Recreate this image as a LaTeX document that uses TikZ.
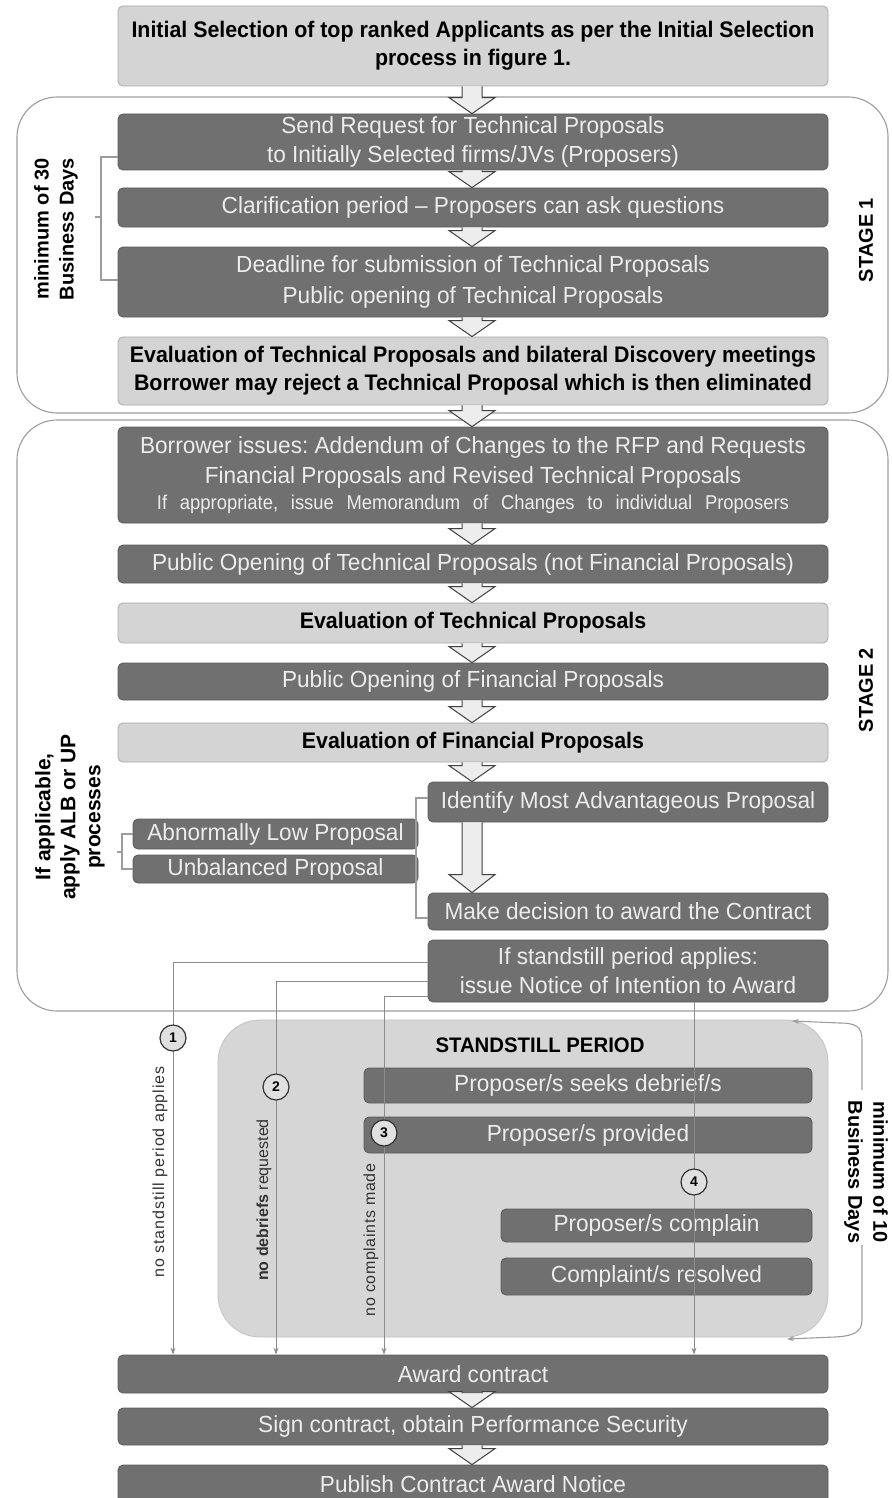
\documentclass[tikz,border=0pt]{standalone}
\usepackage{fontspec}
\setmainfont{Liberation Sans}
\newfontfamily\boxfont[FakeStretch=0.97, Ligatures=TeX]{Liberation Sans}
\newfontfamily\boldboxfont[FakeStretch=0.95, Ligatures=TeX]{Liberation Sans}
\newfontfamily\memofont[FakeStretch=0.92, WordSpace=2.5]{Liberation Sans}
\usetikzlibrary{arrows.meta,calc}
\frenchspacing

\definecolor{boxdark}{HTML}{707070}
\definecolor{boxdarkline}{HTML}{5A5A5A}
\definecolor{boxlight}{HTML}{D4D4D4}
\definecolor{boxlightline}{HTML}{A8A8A8}
\definecolor{boxtext}{HTML}{ECECEC}
\definecolor{stageline}{HTML}{9C9C9C}
\definecolor{panelfill}{HTML}{D6D6D6}
\definecolor{connline}{HTML}{8C8C8C}

% box given by its corners (x1,y1) (x2,y2), y growing downwards
\newcommand\flowbox[7]{%
  \pgfmathsetmacro\fbcx{(#3+#5)/2}%
  \pgfmathsetmacro\fbcy{(#4+#6)/2}%
  \pgfmathsetmacro\fbw{#5-#3}%
  \pgfmathsetmacro\fbh{#6-#4}%
  \node[#2, minimum width=\fbw pt, minimum height=\fbh pt] (#1) at (\fbcx,\fbcy) {#7};}

% hollow block arrow from one box down to the next, at a given x
\newcommand\blockarrow[4][16]{%
  \draw[blockarr] let \p1=(#2.south), \p2=(#3.north) in
    (#4pt-10pt,\y1) -- (#4pt-10pt,\y2+#1pt) -- (#4pt-23pt,\y2+#1pt) -- (#4pt,\y2)
    -- (#4pt+23pt,\y2+#1pt) -- (#4pt+10pt,\y2+#1pt) -- (#4pt+10pt,\y1);}

\begin{document}
\begin{tikzpicture}[x=1pt,y=-1pt,
  darkbox/.style={draw=boxdarkline, line width=0.8pt, fill=boxdark, rounded corners=5pt,
    text=boxtext, align=center, inner sep=0pt,
    font=\boxfont\fontsize{23.3}{29}\selectfont},
  lightbox/.style={draw=boxlightline, line width=0.8pt, fill=boxlight, rounded corners=5pt,
    text=black, align=center, inner sep=0pt,
    font=\boldboxfont\bfseries\fontsize{22.5}{28}\selectfont},
  panelbox/.style={draw=boxlightline!70, line width=0.8pt, fill=panelfill, rounded corners=42pt,
    inner sep=0pt},
  stagebox/.style={draw=stageline, line width=1.1pt, rounded corners=40pt},
  blockarr/.style={draw=black!75, line width=1pt, fill=white!93!black, line join=miter},
  conn/.style={draw=connline, line width=1pt, -{Stealth[length=7pt,width=5pt]}},
  bracket/.style={draw=stageline, line width=1.1pt},
  sidelabel/.style={font=\bfseries\fontsize{20}{25}\selectfont, align=center, inner sep=0pt},
  steplabel/.style={font=\fontsize{16}{18}\selectfont, text=black!80, inner sep=0pt, rotate=90},
  numcircle/.style={circle, draw=black!80, line width=1.2pt, fill=white!88!black,
    minimum size=26pt, inner sep=0pt, font=\bfseries\fontsize{14}{14}\selectfont}]

\clip (0,0) rectangle (891,1498);

% stage outlines
\draw[stagebox] (17,97) rectangle (888,413);
\draw[stagebox] (17,420) rectangle (888,1011);

% stage 1
\flowbox{init}{lightbox}{118}{6}{828}{86}{Initial Selection of top ranked Applicants as per the Initial Selection\\process in figure 1.}
\flowbox{send}{darkbox}{118}{114}{828}{170}{Send Request for Technical Proposals\\to Initially Selected firms/JVs (Proposers)}
\flowbox{clar}{darkbox}{118}{188}{828}{227}{Clarification period – Proposers can ask questions}
\flowbox{dead}{darkbox}{118}{247}{828}{317}{Deadline for submission of Technical Proposals\\[2pt]Public opening of Technical Proposals}
\flowbox{evtone}{lightbox}{118}{337}{828}{405}{Evaluation of Technical Proposals and bilateral Discovery meetings\\Borrower may reject a Technical Proposal which is then eliminated}

% stage 2
\flowbox{borr}{darkbox}{118}{427}{828}{523}{Borrower issues: Addendum of Changes to the RFP and Requests\\[1pt]Financial Proposals and Revised Technical Proposals\\[-3pt]{\memofont\fontsize{20}{24}\selectfont If appropriate, issue Memorandum of Changes to individual Proposers}}
\flowbox{pot}{darkbox}{118}{545}{828}{583}{Public Opening of Technical Proposals (not Financial Proposals)}
\flowbox{evttwo}{lightbox}{118}{603}{828}{643}{Evaluation of Technical Proposals}
\flowbox{pof}{darkbox}{118}{663}{828}{700}{Public Opening of Financial Proposals}
\flowbox{evf}{lightbox}{118}{723}{828}{762}{Evaluation of Financial Proposals}
\flowbox{ident}{darkbox}{428}{782}{828}{822}{Identify Most Advantageous Proposal}
\flowbox{abn}{darkbox}{133}{819}{418}{849}{Abnormally Low Proposal}
\flowbox{unb}{darkbox}{133}{855}{418}{883}{Unbalanced Proposal}
\flowbox{deci}{darkbox}{428}{893}{828}{930}{Make decision to award the Contract}
\flowbox{noti}{darkbox}{428}{940}{828}{1002}{If standstill period applies:\\issue Notice of Intention to Award}

% standstill period
\flowbox{panel}{panelbox}{218}{1020}{828}{1337}{}
\node[font=\boxfont\bfseries\fontsize{21}{21}\selectfont, inner sep=0pt] (sstitle) at (540,1045) {STANDSTILL PERIOD};
\flowbox{seek}{darkbox}{364}{1068}{812}{1103}{Proposer/s seeks debrief/s}
\flowbox{prov}{darkbox}{364}{1117}{812}{1153}{Proposer/s provided}
\flowbox{compl}{darkbox}{501}{1209}{812}{1242}{Proposer/s complain}
\flowbox{reso}{darkbox}{501}{1258}{812}{1295}{Complaint/s resolved}

% final steps
\flowbox{award}{darkbox}{118}{1355}{828}{1393}{Award contract}
\flowbox{sign}{darkbox}{118}{1408}{828}{1445}{Sign contract, obtain Performance Security}
\flowbox{publ}{darkbox}{118}{1465}{828}{1503}{Publish Contract Award Notice}

% the four routes from the notice to the award
\coordinate (k1) at (173,1038);
\coordinate (k2) at (276,1087);
\coordinate (k3) at (384,1133);
\coordinate (k4) at (694,1182);
\draw[conn] ([yshift=9pt]noti.west) -| (award.north -| k1);
\draw[conn] ([yshift=-10pt]noti.west) -| (award.north -| k2);
\draw[conn] ([yshift=-25pt]noti.west) -| (award.north -| k3);
\draw[conn] (noti.south -| k4) -- (award.north -| k4);
\node[numcircle] (n1) at (k1) {1};
\node[numcircle] (n2) at (k2) {2};
\node[numcircle] (n3) at (k3) {3};
\node[numcircle] (n4) at (k4) {4};
\node[steplabel, font=\fontsize{16}{18}\selectfont\addfontfeatures{LetterSpace=6}] (r1) at (160,1172) {no standstill period applies};
\node[steplabel] (r2) at (264,1200) {\textbf{no debriefs} requested};
\node[steplabel, font=\fontsize{16}{18}\selectfont\addfontfeatures{LetterSpace=4}] (r3) at (371,1240) {no complaints made};

% block arrows
\blockarrow{init}{send}{472}
\blockarrow{send}{clar}{472}
\blockarrow{clar}{dead}{472}
\blockarrow{dead}{evtone}{472}
\blockarrow{evtone}{borr}{472}
\blockarrow{borr}{pot}{472}
\blockarrow{pot}{evttwo}{472}
\blockarrow{evttwo}{pof}{472}
\blockarrow{pof}{evf}{472}
\blockarrow{evf}{ident}{472}
\blockarrow[18]{ident}{deci}{472}
\blockarrow{award}{sign}{472}
\blockarrow{sign}{publ}{472}

% brackets
\draw[bracket] (send.west |- 0,157) -- (101,157) -- (101,280) -- (dead.west |- 0,280);
\draw[bracket] (101,217) -- (95,217);
\draw[bracket] (abn.west) -- (122,834) -- (122,869) -- (unb.west);
\draw[bracket] (122,852) -- (117,852);
\draw[bracket] (ident.west |- 0,798) -- (416,798) -- (416,918) -- (deci.west |- 0,918);

% side labels
\node[sidelabel, rotate=90] (min30) at (56,229) {minimum of 30\\Business Days};
\node[sidelabel, rotate=90] (stageone) at (866,240) {STAGE 1};
\node[sidelabel, rotate=90] (stagetwo) at (866,690) {STAGE 2};
\node[sidelabel, rotate=90, font=\bfseries\fontsize{21}{25}\selectfont] (alb) at (70,817) {If applicable,\\apply ALB or UP\\processes};
\node[sidelabel, rotate=-90] (min10) at (866,1172) {minimum of 10\\Business Days};
\coordinate (btop) at (792,1021);
\coordinate (bbot) at (787,1339);
\draw[bracket, -{Stealth[length=7pt,width=5pt]}] (862,1090) -- (862,1040)
  .. controls (862,1027) and (856,1023) .. (840,1023) -- (btop);
\draw[bracket, -{Stealth[length=7pt,width=5pt]}] (862,1245) -- (862,1320)
  .. controls (862,1333) and (852,1336) .. (835,1337) -- (bbot);
\end{tikzpicture}
\end{document}
